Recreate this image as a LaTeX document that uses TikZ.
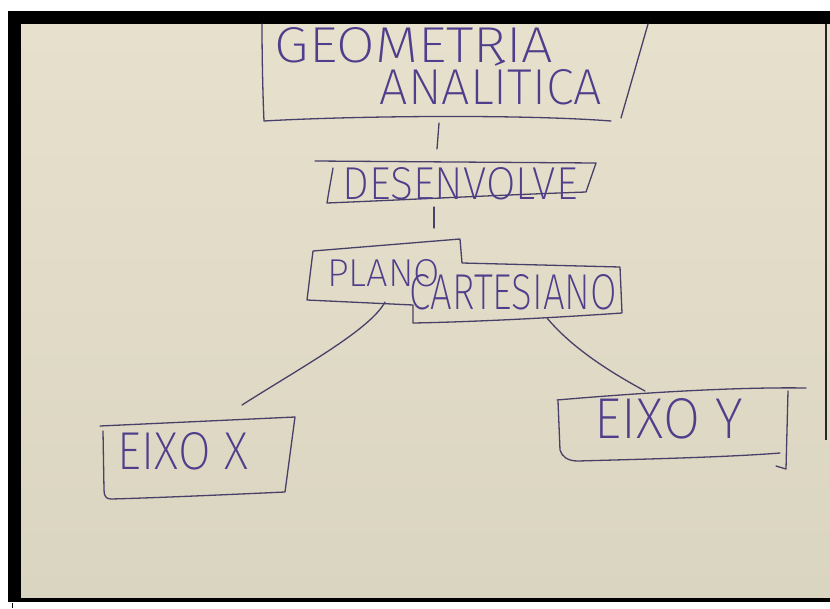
\documentclass[tikz,border=0pt]{standalone}
\usepackage{fontspec}
\usepackage{graphicx}
\IfFontExistsTF{Fira Sans ExtraLight}
  {\newfontfamily\handfont{Fira Sans ExtraLight}}
  {\newfontfamily\handfont{Fira Sans}}
% lettering squeezed into a given width and cap height
\newcommand\handtext[3]{\resizebox{#1pt}{#2pt}{\handfont #3}}
\definecolor{paperhi}{RGB}{231,224,205}
\definecolor{paperlo}{RGB}{218,213,192}
\definecolor{penline}{RGB}{72,64,104}
\definecolor{penink}{RGB}{78,62,140}
\tikzset{
  pen/.style={draw=penline, line width=1.3pt, line cap=round, line join=round},
  link/.style={pen},
  lbl/.style={inner sep=0pt, outer sep=0pt, text=penink}
}
\begin{document}
\begin{tikzpicture}[x=1pt, y=-1pt]
  \useasboundingbox (0,0) rectangle (830,608);
  % photo mount and sheet
  \fill[white] (0,0) rectangle (830,608);
  \fill[black] (8,11) rectangle (830,602);
  \shade[top color=paperhi, bottom color=paperlo] (21,24) rectangle (830,597);
  \draw[black!85, line width=2pt] (826,24) -- (826,440);
  \draw[black, line width=0.8pt] (12,603) -- (12,608);

  % top box: GEOMETRIA ANALITICA
  \draw[pen] (262,24) .. controls (262,60) and (263,100) .. (264,121)
             .. controls (350,116) and (520,114) .. (611,121);
  \draw[pen] (648,24) -- (621,118);
  \node[lbl] (geo1) at (414,45.5) {\handtext{278}{35}{GEOMETRIA}};
  \node[lbl] (geo2) at (491,87.5) {\handtext{222}{35}{ANAL\smash{Í}TICA}};

  % middle box: DESENVOLVE
  \draw[pen] (315,161) -- (596,163) -- (586,192)
             .. controls (500,195) and (400,200) .. (327,203)
             .. controls (329,190) and (331,180) .. (333,168);
  \node[lbl] (des) at (460,184) {\handtext{235}{32}{DESENVOLVE}};

  % stepped box: PLANO CARTESIANO
  \draw[pen] (313,251) -- (460,239) -- (462,263) -- (620,267) -- (622,313)
             .. controls (550,318) and (470,322) .. (413,323)
             -- (413,305) -- (307,300) -- cycle;
  \node[lbl] (plano) at (383.5,273.5) {\handtext{113}{27}{PLANO}};
  \node[lbl] (cart) at (513.5,292.5) {\handtext{207}{35}{CARTESIANO}};

  % lower boxes
  \draw[pen] (100,426) -- (295,417) -- (285,492)
             .. controls (220,495) and (150,498) .. (111,499)
             .. controls (106,499) and (104,496) .. (104,490) -- (103,431);
  \node[lbl] (ex) at (183,451.5) {\handtext{130}{37}{EIXO X}};

  \draw[pen] (557,400) .. controls (650,392) and (740,387) .. (806,388);
  \draw[pen] (788,391) -- (786,469) -- (776,466);
  \draw[pen] (558,401) -- (560,450) .. controls (562,457) and (568,461) .. (578,461)
             .. controls (650,459) and (730,457) .. (780,453);
  \node[lbl] (ey) at (669,419) {\handtext{148}{40}{EIXO Y}};

  % connector end points
  \coordinate (geoFoot) at (439,123);
  \coordinate (desHead) at (437,149);
  \coordinate (desFoot) at (434,207);
  \coordinate (plHead) at (434,228);
  \coordinate (plLeft) at (385,302);
  \coordinate (exHead) at (242,405);
  \coordinate (plRight) at (547,318);
  \coordinate (eyHead) at (645,391);

  % connectors
  \draw[link] (geoFoot) -- (desHead);
  \draw[link] (desFoot) -- (plHead);
  \draw[link] (plLeft) .. controls (370,330) and (300,368) .. (exHead);
  \draw[link] (plRight) .. controls (572,348) and (610,372) .. (eyHead);
\end{tikzpicture}
\end{document}
